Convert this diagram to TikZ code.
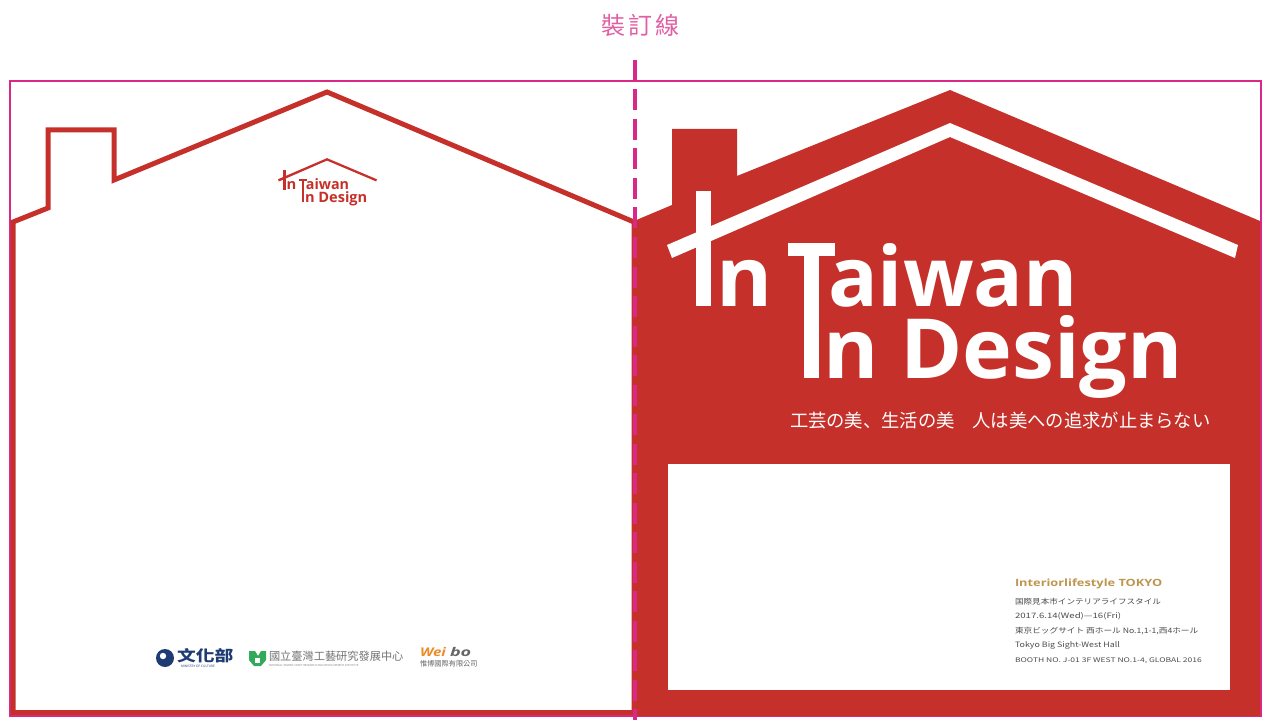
\documentclass[tikz,border=0pt]{standalone}
\usepackage{fontspec}
\setmainfont{Open Sans}
\newfontfamily\cjk{Noto Sans CJK JP}
\newfontfamily\tcjk{Noto Sans CJK TC}
\definecolor{housered}{RGB}{197,48,42}
\definecolor{pinkline}{RGB}{217,40,135}
\definecolor{foldtext}{RGB}{225,95,165}
\definecolor{goldtext}{RGB}{190,150,80}
\definecolor{navy}{RGB}{30,60,115}
\definecolor{leaf}{RGB}{50,170,90}
\definecolor{orangeb}{RGB}{235,140,40}
\tikzset{
  txt/.style={inner sep=0pt,outer sep=0pt,anchor=base west},
  small/.style={txt,font=\cjk\fontsize{7.4}{8}\selectfont,text=black!70},
  logotxt/.style={txt,font=\bfseries\fontsize{83}{83}\selectfont,transform shape},
}
\newcommand{\housemark}[1]{%
  \fill[#1] (667,245) -- (950,123) -- (1238,245) -- (1235,258) -- (950,137) -- (672,258) -- cycle;
  \fill[#1] (696,191) rectangle (711,306);
  \fill[#1] (787.5,243) rectangle (835,256);
  \fill[#1] (803.5,243) rectangle (818.5,378);
  \node[logotxt,text=#1,xscale=1.03] at (716,306) {n};
  \node[logotxt,text=#1,xscale=.995] at (828,306) {aiwan};
  \node[logotxt,text=#1,xscale=1.015] at (823,378) {n Design};
}
\begin{document}
\begin{tikzpicture}[x=1pt,y=-1pt]
\useasboundingbox (0,0) rectangle (1269,722);
\fill[white] (0,0) rectangle (1269,722);
\node[anchor=center,inner sep=0pt,text=foldtext,font=\tcjk\fontsize{24}{24}\selectfont] (fold) at (640,25) {裝\hspace{3pt}訂\hspace{3pt}線};
% frame
\draw[pinkline,line width=2pt] (9.5,81) rectangle (1261,716);
% left house outline
\draw[housered,line width=5pt,line join=miter] (13,222) -- (48,208) -- (48,130) -- (114,130) -- (114,180) -- (327,92) -- (634,222) -- (634,712.5) -- (13,712.5) -- cycle;
% right house
\fill[housered] (634,221) -- (672,205) -- (672,129) -- (737,129) -- (737,176) -- (950,90) -- (1260,221) -- (1260,716) -- (634,716) -- cycle;
\fill[white] (668,464) rectangle (1230,690);
\housemark{white}
% small logo
\begin{scope}[shift={(327,159)},scale=.173,shift={(-950,-128)}]
\housemark{housered}
\end{scope}
% fold line
\draw[pinkline,line width=4pt,dash pattern=on 21pt off 8.5pt] (635,60) -- (635,720);
% tagline
\node[txt,text=white,font=\cjk\fontsize{18.3}{18}\selectfont] (tag) at (790,427) {工芸の美、生活の美\hspace{18pt}人は美への追求が止まらない};
% info block
\node[txt,text=goldtext,font=\bfseries\fontsize{10}{10}\selectfont,xscale=1.28] (t1) at (1015,586) {Interiorlifestyle TOKYO};
\node[small,xscale=1.16] (t2) at (1015,604) {国際見本市インテリアライフスタイル};
\node[small,xscale=1.3] (t3) at (1015,618) {2017.6.14(Wed)—16(Fri)};
\node[small,xscale=1.17] (t4) at (1015,633) {東京ビッグサイト 西ホール No.1,1-1,西4ホール};
\node[small,xscale=1.2] (t5) at (1015,647) {Tokyo Big Sight-West Hall};
\node[small,font=\cjk\fontsize{6.4}{7}\selectfont,xscale=1.33] (t6) at (1015,662) {BOOTH NO. J-01 3F WEST NO.1-4, GLOBAL 2016};
% sponsor logos
\fill[navy] (165,658) circle (9);
\fill[white] (163,656) circle (3.2);
\node[txt,text=navy,font=\tcjk\bfseries\fontsize{15}{15}\selectfont,xscale=1.25] (moc) at (177,661) {文化部};
\node[txt,text=navy,font=\fontsize{3.2}{4}\selectfont] (moc2) at (181,667) {MINISTRY OF CULTURE};
\fill[leaf] (249,651) -- (255,651) -- (258,656) -- (261,651) -- (266,651) -- (266,660) -- (261,666) -- (254,666) -- (249,660) -- cycle;
\fill[white] (255,658) rectangle (260,663);
\node[txt,text=black!55,font=\tcjk\fontsize{11.2}{12}\selectfont] (nt) at (269,660) {國立臺灣工藝研究發展中心};
\node[txt,text=black!50,font=\fontsize{2.8}{3}\selectfont] (nt2) at (269,666) {NATIONAL TAIWAN CRAFT RESEARCH AND DEVELOPMENT INSTITUTE};
\node[txt,text=orangeb,font=\bfseries\itshape\fontsize{12}{12}\selectfont,xscale=1.25] (w1) at (420,656) {Wei};
\node[txt,text=black!60,font=\bfseries\itshape\fontsize{12}{12}\selectfont,xscale=1.5] (w2) at (450,656) {bo};
\node[txt,text=black!60,font=\tcjk\fontsize{7.2}{8}\selectfont] (w3) at (420,666) {惟博國際有限公司};
\end{tikzpicture}
\end{document}
